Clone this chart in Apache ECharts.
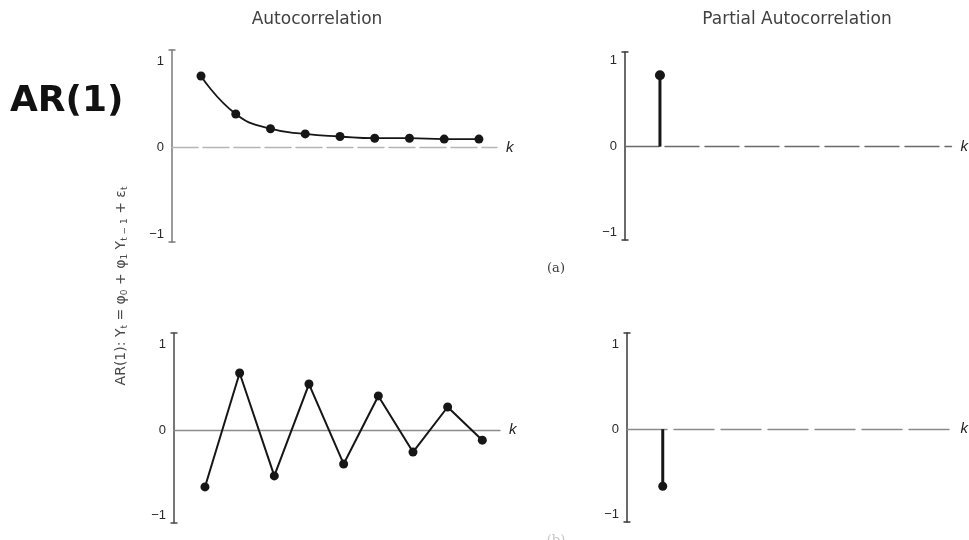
<!DOCTYPE html>
<html>
<head>
<meta charset="utf-8">
<script src="https://cdn.jsdelivr.net/npm/echarts@6/dist/echarts.min.js"></script>
<style>
  html, body { margin: 0; padding: 0; background: #fff; }
  #chart { width: 969px; height: 540px; }
</style>
</head>
<body>
<div id="chart"></div>
<script>
// Lags shown on each correlogram
const lags = [1, 2, 3, 4, 5, 6, 7, 8, 9];

// (a) phi1 > 0: ACF decays smoothly, PACF cuts off after lag 1
const acfPositive = [0.83, 0.39, 0.22, 0.16, 0.13, 0.11, 0.11, 0.10, 0.10];
const pacfPositiveLags = [1];
const pacfPositive = [0.83];

// (b) phi1 < 0: ACF alternates in sign while decaying, PACF cuts off after lag 1
const acfNegative = [-0.67, 0.67, -0.54, 0.54, -0.40, 0.40, -0.26, 0.27, -0.12];
const pacfNegativeLags = [1];
const pacfNegative = [-0.67];

// Labelled values on every vertical axis
const yTickValues = [-1, 0, 1];

const panelTitles = ['Autocorrelation', 'Partial Autocorrelation'];
const panelTags = ['(a)', '(b)'];

const pairs = (xs, ys) => xs.map((x, i) => [x, ys[i]]);

const chart = echarts.init(document.getElementById('chart'), null, { renderer: 'canvas' });

const INK = '#161616';

function xAxisFor(gridIndex, min, max, lineColor, lineType) {
  return {
    type: 'value', gridIndex, min, max,
    axisLine: { show: true, onZero: true, lineStyle: { color: lineColor, width: 1.4, type: lineType } },
    axisTick: { show: false },
    axisLabel: { show: false },
    splitLine: { show: false },
    name: 'k',
    nameLocation: 'end',
    nameGap: 9,
    nameTextStyle: { fontStyle: 'italic', fontSize: 15, color: '#222', fontFamily: 'Liberation Sans, Arial, sans-serif', verticalAlign: 'middle' }
  };
}

function yAxisFor(gridIndex, min, max, lineColor) {
  return {
    type: 'value', gridIndex, min, max,
    axisLine: {
      show: true, onZero: false,
      symbol: ['rect', 'rect'], symbolSize: [7, 1.5],
      lineStyle: { color: lineColor, width: 1.5 }
    },
    axisTick: { show: false },
    axisLabel: {
      show: true,
      customValues: yTickValues,
      margin: 8,
      fontSize: 13,
      color: '#2a2a2a',
      fontFamily: 'Liberation Sans, Arial, sans-serif',
      formatter: v => (v < 0 ? '\u2212' + Math.abs(v) : String(v))
    },
    splitLine: { show: false }
  };
}

const option = {
  animation: false,
  backgroundColor: '#ffffff',
  grid: [
    { left: 172, top: 50, width: 325, height: 192 },
    { left: 625, top: 52, width: 327, height: 188 },
    { left: 174, top: 333, width: 326, height: 190 },
    { left: 627, top: 333, width: 330, height: 189 }
  ],
  xAxis: [
    xAxisFor(0, 0.165, 9.52, '#b5b5b5', [26, 5]),
    xAxisFor(1, 0, 9.34, '#6a6a6a', [34, 6]),
    xAxisFor(2, 0.107, 9.51, '#8c8c8c', 'solid'),
    xAxisFor(3, -0.04, 9.4, '#8a8a8a', [40, 7])
  ],
  yAxis: [
    yAxisFor(0, -1.09, 1.13, '#7a7a7a'),
    yAxisFor(1, -1.085, 1.10, '#3a3a3a'),
    yAxisFor(2, -1.094, 1.14, '#4a4a4a'),
    yAxisFor(3, -1.09, 1.13, '#3a3a3a')
  ],
  series: [
    {
      name: 'ACF (a)', type: 'line', xAxisIndex: 0, yAxisIndex: 0,
      data: pairs(lags, acfPositive), smooth: true,
      symbol: 'circle', symbolSize: 9,
      lineStyle: { color: INK, width: 1.8 }, itemStyle: { color: INK, opacity: 1 }
    },
    {
      name: 'PACF (a)', type: 'bar', xAxisIndex: 1, yAxisIndex: 1,
      data: pairs(pacfPositiveLags, pacfPositive), barWidth: 3,
      itemStyle: { color: INK }
    },
    {
      name: 'PACF (a) tip', type: 'scatter', xAxisIndex: 1, yAxisIndex: 1,
      data: pairs(pacfPositiveLags, pacfPositive), symbol: 'circle', symbolSize: 10,
      itemStyle: { color: INK, opacity: 1 }
    },
    {
      name: 'ACF (b)', type: 'line', xAxisIndex: 2, yAxisIndex: 2,
      data: pairs(lags, acfNegative), smooth: false,
      symbol: 'circle', symbolSize: 9,
      lineStyle: { color: INK, width: 2 }, itemStyle: { color: INK, opacity: 1 }
    },
    {
      name: 'PACF (b)', type: 'bar', xAxisIndex: 3, yAxisIndex: 3,
      data: pairs(pacfNegativeLags, pacfNegative), barWidth: 3,
      itemStyle: { color: INK }
    },
    {
      name: 'PACF (b) tip', type: 'scatter', xAxisIndex: 3, yAxisIndex: 3,
      data: pairs(pacfNegativeLags, pacfNegative), symbol: 'circle', symbolSize: 9,
      itemStyle: { color: INK, opacity: 1 }
    }
  ],
  graphic: [
    {
      type: 'text', x: 317, y: 20,
      style: { text: panelTitles[0], font: '17px "DejaVu Sans"', fill: '#404040', align: 'center', verticalAlign: 'middle', textAlign: 'center', textVerticalAlign: 'middle' }
    },
    {
      type: 'text', x: 797, y: 20,
      style: { text: panelTitles[1], font: '17px "DejaVu Sans"', fill: '#404040', align: 'center', verticalAlign: 'middle', textAlign: 'center', textVerticalAlign: 'middle' }
    },
    {
      type: 'text', x: 10, y: 102,
      style: { text: 'AR(1)', font: 'bold 36px "DejaVu Sans"', fill: '#111', align: 'left', verticalAlign: 'middle', textAlign: 'left', textVerticalAlign: 'middle' }
    },
    {
      type: 'text', x: 121, y: 286, rotation: Math.PI / 2,
      style: {
        text: 'AR(1): Y{s|t} = \u03c6{s|0} + \u03c6{s|1} Y{s|t \u2212 1} + \u03b5{s|t}',
        font: '14px "DejaVu Sans"', fill: '#4a4a4a',
        align: 'center', verticalAlign: 'middle', textAlign: 'center', textVerticalAlign: 'middle',
        lineHeight: 17,
        rich: {
          s: { fontSize: 9, fontFamily: 'DejaVu Sans', fill: '#4a4a4a', verticalAlign: 'bottom', lineHeight: 17 }
        }
      }
    },
    {
      type: 'text', x: 556, y: 269,
      style: { text: panelTags[0], font: '13px "DejaVu Serif"', fill: '#3a3a3a', align: 'center', verticalAlign: 'middle', textAlign: 'center', textVerticalAlign: 'middle' }
    },
    {
      type: 'text', x: 556, y: 541,
      style: { text: panelTags[1], font: '13px "DejaVu Serif"', fill: '#c4c4c4', align: 'center', verticalAlign: 'middle', textAlign: 'center', textVerticalAlign: 'middle' }
    }
  ]
};

chart.setOption(option);
</script>
</body>
</html>
